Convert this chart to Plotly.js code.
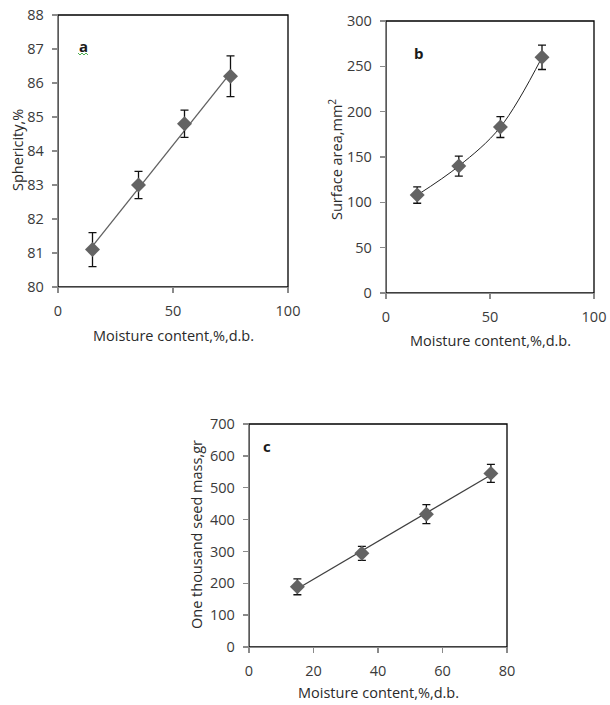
<!DOCTYPE html>
<html><head><meta charset="utf-8">
<script src="https://cdn.plot.ly/plotly-3.0.1.min.js"></script>
<style>body{margin:0;background:#fff}#c{width:610px;height:705px}</style>
</head><body><div id="c"></div>
<script>
// Data
const moisture = [15, 35, 55, 75];
const sphericity = [81.1, 83.0, 84.8, 86.2];
const sphericityErr = [0.5, 0.4, 0.4, 0.6];
const sphericityTrendX = [15, 75];
const sphericityTrendY = [81.2, 86.3];
const surfaceArea = [108, 140, 183, 260];
const surfaceAreaErr = [9, 11, 11.5, 13.5];
const seedMass = [189, 294, 417, 545];
const seedMassErr = [25, 22, 30, 28];
const seedMassTrendX = [15, 75];
const seedMassTrendY = [183, 540];
const xTicksAB = [0, 50, 100];
const xTicksC = [0, 20, 40, 60, 80];
const yTicksA = [80, 81, 82, 83, 84, 85, 86, 87, 88];
const yTicksB = [0, 50, 100, 150, 200, 250, 300];
const yTicksC = [0, 100, 200, 300, 400, 500, 600, 700];

const W = 610, H = 705;
const px = (a, b) => [a / W, b / W];
const py = (top, bottom) => [1 - bottom / H, 1 - top / H];

const FONT = 'Open Sans, sans-serif';
const tickFont = {family: FONT, size: 14.5, color: '#3a3a3a'};
const marker = {symbol: 'diamond', size: 11.5, color: '#636363', line: {width: 0}};
const errStyle = (arr) => ({type: 'data', array: arr, visible: true, color: '#111', thickness: 1.3, width: 4});

const traces = [
  {x: sphericityTrendX, y: sphericityTrendY, mode: 'lines', line: {color: '#606060', width: 1.3}, xaxis: 'x', yaxis: 'y', hoverinfo: 'skip'},
  {x: moisture, y: sphericity, mode: 'markers', marker: marker, error_y: errStyle(sphericityErr), xaxis: 'x', yaxis: 'y'},
  {x: moisture, y: surfaceArea, mode: 'lines', line: {color: '#222', width: 1, shape: 'spline', smoothing: 1}, xaxis: 'x2', yaxis: 'y2', hoverinfo: 'skip'},
  {x: moisture, y: surfaceArea, mode: 'markers', marker: marker, error_y: errStyle(surfaceAreaErr), xaxis: 'x2', yaxis: 'y2'},
  {x: seedMassTrendX, y: seedMassTrendY, mode: 'lines', line: {color: '#404040', width: 1.3}, xaxis: 'x3', yaxis: 'y3', hoverinfo: 'skip'},
  {x: moisture, y: seedMass, mode: 'markers', marker: marker, error_y: errStyle(seedMassErr), xaxis: 'x3', yaxis: 'y3'}
];

const axCommon = {
  showgrid: false, zeroline: false, showline: true, linecolor: '#8a8a8a', linewidth: 1.3,
  ticks: 'outside', ticklen: 5, tickcolor: '#8a8a8a', tickwidth: 1.3, tickfont: tickFont, fixedrange: true
};
const xAx = (dom, anchor, range, ticks) => Object.assign({
  domain: dom, anchor: anchor, range: range, tickvals: ticks, ticktext: ticks.map(String), ticklabelstandoff: 5
}, axCommon);
const yAx = (dom, anchor, range, ticks) => Object.assign({
  domain: dom, anchor: anchor, range: range, tickvals: ticks, ticktext: ticks.map(String), ticklabelstandoff: 5
}, axCommon);

const dA = {x: px(58, 288), y: py(15, 287)};
const dB = {x: px(386, 594), y: py(21, 293)};
const dC = {x: px(249, 507), y: py(424, 647)};

const border = (d) => ({type: 'rect', xref: 'paper', yref: 'paper', x0: d.x[0], x1: d.x[1], y0: d.y[0], y1: d.y[1], line: {color: '#000', width: 1.3}, layer: 'below'});

// small green spell-check squiggle under the "a" label
const sq = [[78, 53], [80, 55], [82, 53], [84, 55], [86, 53], [88, 55]];
const squigglePath = sq.map((p, i) => (i ? 'L' : 'M') + (p[0] / W).toFixed(5) + ',' + (1 - p[1] / H).toFixed(5)).join(' ');

const ann = (x, y, text, opts) => Object.assign({xref: 'paper', yref: 'paper', x: x / W, y: 1 - y / H, xanchor: 'center', yanchor: 'middle', text: text, showarrow: false, font: {family: FONT, size: 14.5, color: '#2a2a2a'}}, opts || {});
const letterFont = {family: FONT, size: 15, color: '#1a1a1a'};

const layout = {
  width: W, height: H, margin: {l: 0, r: 0, t: 0, b: 0},
  paper_bgcolor: '#fff', plot_bgcolor: 'rgba(0,0,0,0)', showlegend: false,
  xaxis: xAx(dA.x, 'y', [0, 100], xTicksAB),
  yaxis: yAx(dA.y, 'x', [80, 88], yTicksA),
  xaxis2: xAx(dB.x, 'y2', [0, 100], xTicksAB),
  yaxis2: yAx(dB.y, 'x2', [0, 300], yTicksB),
  xaxis3: xAx(dC.x, 'y3', [0, 80], xTicksC),
  yaxis3: yAx(dC.y, 'x3', [0, 700], yTicksC),
  shapes: [border(dA), border(dB), border(dC),
    {type: 'path', xref: 'paper', yref: 'paper', path: squigglePath, line: {color: '#4caf50', width: 1}}],
  annotations: [
    ann(173, 335, 'Moisture content,%,d.b.'),
    ann(490, 341, 'Moisture content,%,d.b.'),
    ann(378, 692, 'Moisture content,%,d.b.'),
    ann(18, 150, 'Sphericity,%', {textangle: -90}),
    ann(335, 160, 'Surface area,mm<sup>2</sup>', {textangle: -90}),
    ann(196, 535, 'One thousand seed mass,gr', {textangle: -90}),
    ann(83, 46, '<b>a</b>', {font: letterFont}),
    ann(419, 53, '<b>b</b>', {font: letterFont}),
    ann(267, 446, '<b>c</b>', {font: letterFont})
  ]
};

Plotly.newPlot('c', traces, layout, {displayModeBar: false, staticPlot: true});
</script>
</body></html>
